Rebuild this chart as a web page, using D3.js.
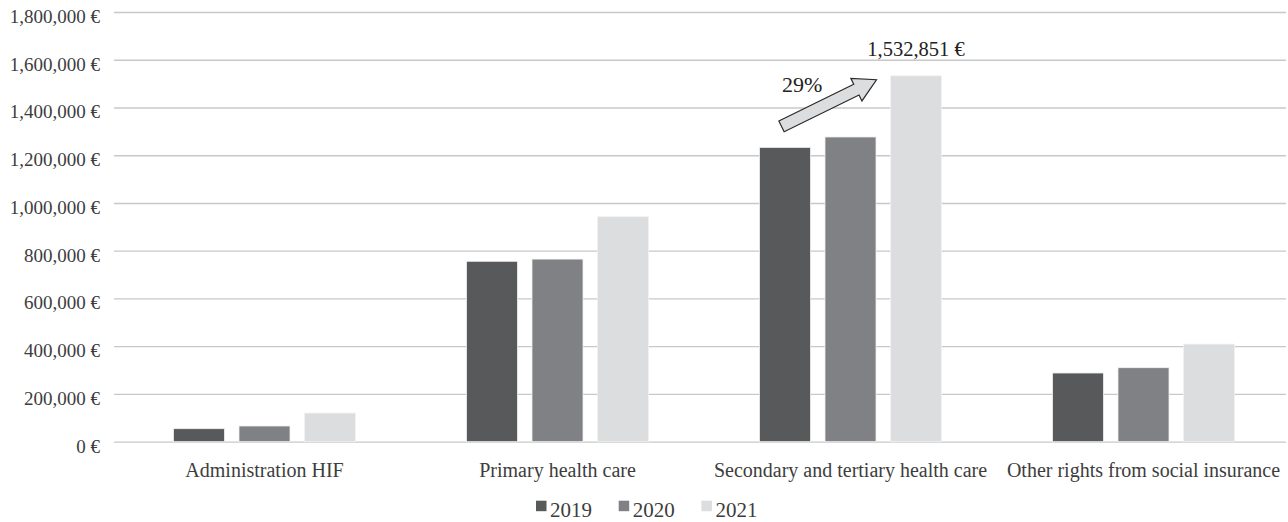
<!DOCTYPE html>
<html>
<head>
<meta charset="utf-8">
<script src="https://cdn.jsdelivr.net/npm/d3@7"></script>
<style>
  body { margin: 0; background: #fff; }
</style>
</head>
<body>
<div id="chart"></div>
<script>
// datos
var categories = ["Administration HIF", "Primary health care", "Secondary and tertiary health care", "Other rights from social insurance"];
var years = ["2019", "2020", "2021"];
var values2019 = [54500, 755800, 1233000, 287800];
var values2020 = [65800, 765000, 1276500, 310000];
var values2021 = [120000, 942600, 1532851, 409000];
var yTicks = [0, 200000, 400000, 600000, 800000, 1000000, 1200000, 1400000, 1600000, 1800000];
var growthLabel = "29%";
var colors = ["#58595b", "#808184", "#dcdddf"];

var width = 1288, height = 522;
var FONT = "'Liberation Serif', 'Times New Roman', serif";
var TXT = "#3d3d3d";
var series = [values2019, values2020, values2021];

var svg = d3.select("#chart").append("svg")
  .attr("width", width)
  .attr("height", height)
  .style("font-family", FONT);

var x0 = d3.scaleBand()
  .domain(categories)
  .range([118, 1290]);

var x1 = d3.scaleBand()
  .domain(years)
  .range([0, x0.bandwidth()])
  .paddingInner(0.221)
  .paddingOuter(0.847);

var y = d3.scaleLinear()
  .domain([0, 1800000])
  .range([441.7, 12]);

var fmt = function(v) { return d3.format(",")(v) + " €"; };

// grid + etiquetas del eje y
var yAxis = d3.axisLeft(y)
  .tickValues(yTicks)
  .tickSize(-(1286 - 114))
  .tickFormat(fmt);

var gy = svg.append("g")
  .attr("transform", "translate(114,0)")
  .call(yAxis)
  .attr("font-family", null)
  .attr("font-size", null);
gy.select(".domain").remove();
gy.selectAll(".tick line").attr("stroke", "#c8c8c8").attr("stroke-width", 1.3);
gy.selectAll(".tick text")
  .attr("x", -14)
  .attr("dy", 10.5)
  .style("font-size", "19px")
  .style("font-family", FONT)
  .attr("fill", TXT);

// barras
var rows = categories.map(function(c, i) {
  return { cat: c, vals: years.map(function(yr, j) { return { year: yr, idx: j, value: series[j][i] }; }) };
});

var groups = svg.selectAll("g.cat")
  .data(rows)
  .enter().append("g")
  .attr("class", "cat")
  .attr("transform", function(d) { return "translate(" + x0(d.cat) + ",0)"; });

groups.selectAll("rect")
  .data(function(d) { return d.vals; })
  .enter().append("rect")
  .attr("x", function(d) { return x1(d.year); })
  .attr("y", function(d) { return y(d.value); })
  .attr("width", x1.bandwidth())
  .attr("height", function(d) { return y(0) - y(d.value); })
  .attr("fill", function(d) { return colors[d.idx]; })
  .attr("stroke", "#f2f2f2")
  .attr("stroke-width", 0.8);

// etiquetas de categorias
var gx = svg.append("g")
  .attr("transform", "translate(0,441.7)")
  .call(d3.axisBottom(x0).tickSize(0))
  .attr("font-family", null)
  .attr("font-size", null);
gx.select(".domain").remove();
gx.selectAll(".tick text")
  .attr("y", 35)
  .attr("dy", 0)
  .style("font-size", "20px")
  .style("font-family", FONT)
  .attr("fill", TXT);

// anotacion: flecha 2019 -> 2021 en secundaria
var ci = 2;
var cx0 = x0(categories[ci]);
var tail = [cx0 + x1("2019") + x1.bandwidth() / 2 - 3.5, y(values2019[ci]) - 21];
var tip = [cx0 + x1("2021") - 14, y(values2021[ci]) + 4];
var dx = tip[0] - tail[0], dy = tip[1] - tail[1];
var len = Math.sqrt(dx * dx + dy * dy);
var ang = Math.atan2(dy, dx) * 180 / Math.PI;
var sw = 6, hw = 12.6, hl = 22.4;
var arrowPts = [[0, -sw], [len - hl, -sw], [len - hl, -hw], [len, 0], [len - hl, hw], [len - hl, sw], [0, sw]];

svg.append("polygon")
  .attr("points", arrowPts.map(function(p) { return p.join(","); }).join(" "))
  .attr("transform", "translate(" + tail[0] + "," + tail[1] + ") rotate(" + ang + ")")
  .attr("fill", "#dcdddf")
  .attr("stroke", "#2b2b2b")
  .attr("stroke-width", 1.2);

svg.append("text")
  .attr("x", tail[0] + 0.5)
  .attr("y", tail[1] - 34.5)
  .attr("fill", "#222")
  .style("font-family", FONT)
  .style("font-size", "22px")
  .text(growthLabel);

svg.append("text")
  .attr("x", cx0 + x1("2021") + x1.bandwidth() / 2)
  .attr("y", y(values2021[ci]) - 20)
  .attr("text-anchor", "middle")
  .attr("fill", "#222")
  .style("font-family", FONT)
  .style("font-size", "20.5px")
  .text(fmt(values2021[ci]));

// leyenda
var legend = svg.append("g").attr("transform", "translate(536,0)");
var items = legend.selectAll("g")
  .data(years)
  .enter().append("g")
  .attr("transform", function(d, i) { return "translate(" + (i * 82.7) + ",0)"; });
items.append("rect")
  .attr("x", 0)
  .attr("y", 500.7)
  .attr("width", 10.5)
  .attr("height", 10.5)
  .attr("fill", function(d, i) { return colors[i]; });
items.append("text")
  .attr("x", 14)
  .attr("y", 516.7)
  .attr("fill", TXT)
  .style("font-family", FONT)
  .style("font-size", "21px")
  .text(function(d) { return d; });
</script>
</body>
</html>
